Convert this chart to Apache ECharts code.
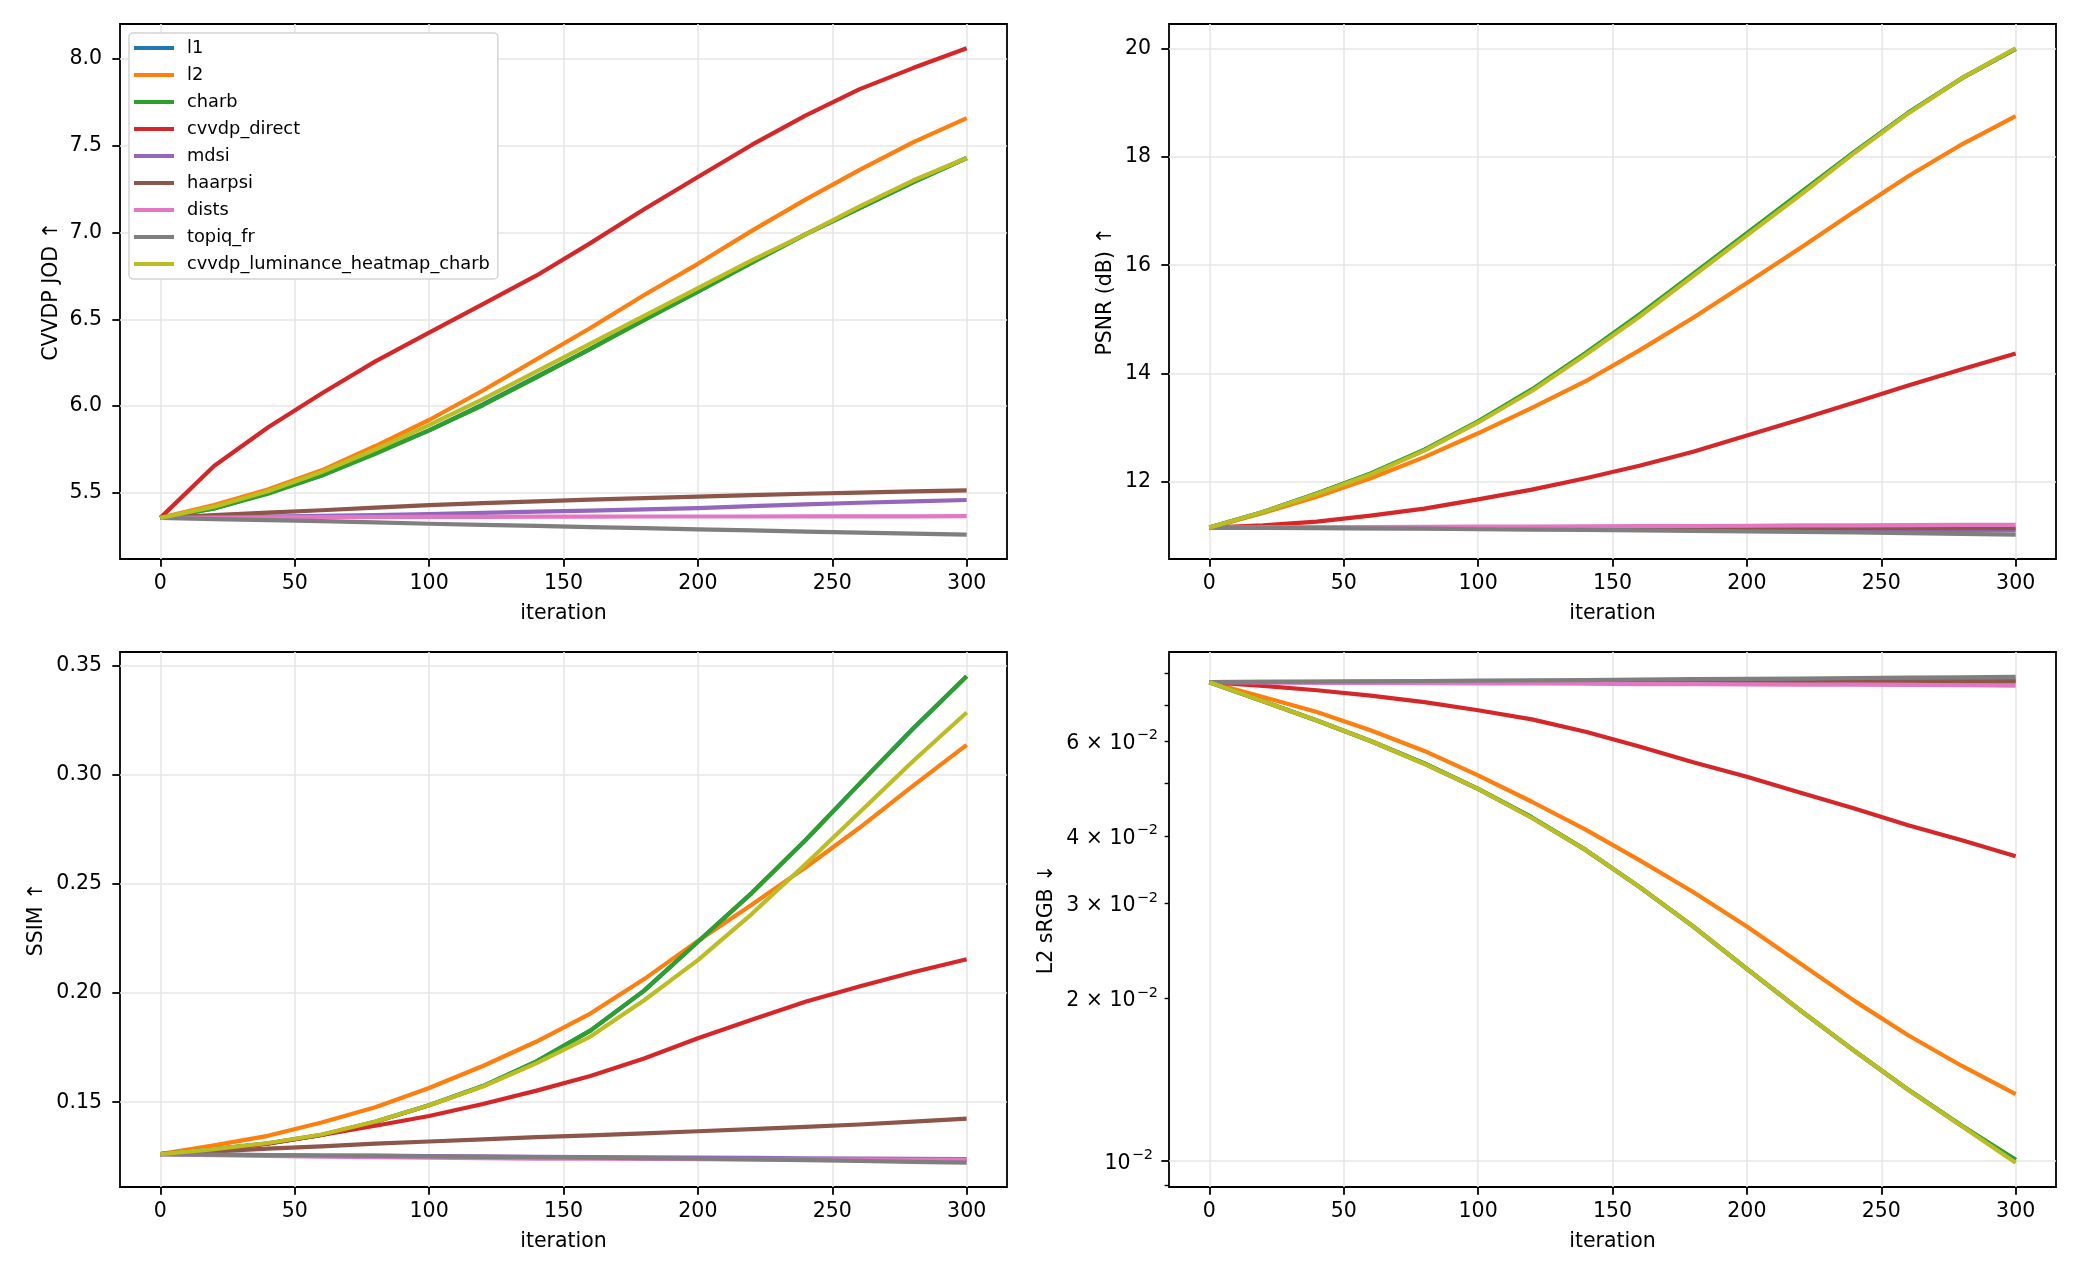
<!DOCTYPE html>
<html>
<head>
<meta charset="utf-8">
<script src="https://cdn.jsdelivr.net/npm/echarts@6/dist/echarts.min.js"></script>
<style>
    html, body { margin: 0; padding: 0; background: #ffffff; }
    #main { width: 2080px; height: 1280px; }
</style>
</head>
<body>
<div id="main"></div>
<script>
var iterations = [0, 20, 40, 60, 80, 100, 120, 140, 160, 180, 200, 220, 240, 260, 280, 300];
var methods = ['l1', 'l2', 'charb', 'cvvdp_direct', 'mdsi', 'haarpsi', 'dists', 'topiq_fr', 'cvvdp_luminance_heatmap_charb'];
var colors = ['#1f77b4', '#ff7f0e', '#2ca02c', '#d62728', '#9467bd', '#8c564b', '#e377c2', '#7f7f7f', '#bcbd22'];

// one row per method, same order as `methods`
var jodValues = [
    [5.356, 5.41, 5.50, 5.60, 5.73, 5.86, 6.01, 6.17, 6.33, 6.50, 6.66, 6.83, 6.99, 7.14, 7.29, 7.43],
    [5.356, 5.43, 5.52, 5.63, 5.77, 5.92, 6.09, 6.27, 6.45, 6.64, 6.82, 7.01, 7.19, 7.36, 7.52, 7.66],
    [5.356, 5.41, 5.495, 5.60, 5.725, 5.86, 6.005, 6.165, 6.33, 6.495, 6.66, 6.825, 6.99, 7.14, 7.29, 7.43],
    [5.356, 5.655, 5.877, 6.073, 6.258, 6.423, 6.588, 6.753, 6.939, 7.134, 7.320, 7.505, 7.674, 7.825, 7.948, 8.062],
    [5.356, 5.360, 5.364, 5.368, 5.372, 5.378, 5.385, 5.392, 5.398, 5.405, 5.412, 5.424, 5.434, 5.443, 5.451, 5.459],
    [5.356, 5.372, 5.386, 5.400, 5.415, 5.430, 5.441, 5.451, 5.461, 5.470, 5.479, 5.487, 5.495, 5.502, 5.509, 5.515],
    [5.356, 5.358, 5.359, 5.360, 5.361, 5.362, 5.362, 5.363, 5.363, 5.364, 5.364, 5.364, 5.365, 5.365, 5.365, 5.366],
    [5.356, 5.349, 5.343, 5.337, 5.330, 5.322, 5.316, 5.310, 5.303, 5.297, 5.290, 5.284, 5.277, 5.271, 5.265, 5.259],
    [5.356, 5.42, 5.51, 5.62, 5.75, 5.89, 6.04, 6.20, 6.36, 6.52, 6.68, 6.84, 6.99, 7.15, 7.30, 7.43]
];

var psnrValues = [
    [11.16, 11.45, 11.79, 12.15, 12.59, 13.11, 13.70, 14.37, 15.08, 15.83, 16.58, 17.33, 18.09, 18.81, 19.45, 19.99],
    [11.16, 11.43, 11.73, 12.07, 12.46, 12.90, 13.37, 13.86, 14.43, 15.03, 15.67, 16.32, 16.99, 17.64, 18.23, 18.75],
    [11.16, 11.45, 11.79, 12.16, 12.60, 13.12, 13.71, 14.38, 15.09, 15.84, 16.59, 17.34, 18.09, 18.81, 19.45, 19.99],
    [11.16, 11.20, 11.27, 11.38, 11.51, 11.68, 11.86, 12.07, 12.30, 12.56, 12.86, 13.16, 13.47, 13.78, 14.08, 14.37],
    [11.16, 11.157, 11.155, 11.152, 11.15, 11.147, 11.144, 11.141, 11.138, 11.135, 11.131, 11.127, 11.123, 11.119, 11.115, 11.11],
    [11.16, 11.16, 11.16, 11.16, 11.16, 11.158, 11.157, 11.156, 11.155, 11.154, 11.153, 11.152, 11.152, 11.151, 11.15, 11.15],
    [11.16, 11.165, 11.17, 11.17, 11.175, 11.18, 11.18, 11.185, 11.19, 11.19, 11.195, 11.20, 11.20, 11.205, 11.21, 11.21],
    [11.16, 11.155, 11.15, 11.145, 11.14, 11.13, 11.125, 11.12, 11.11, 11.10, 11.09, 11.08, 11.07, 11.06, 11.045, 11.03],
    [11.16, 11.45, 11.78, 12.14, 12.58, 13.10, 13.68, 14.35, 15.05, 15.80, 16.55, 17.30, 18.07, 18.80, 19.45, 20.00]
];

var ssimValues = [
    [0.1262, 0.1285, 0.1311, 0.1350, 0.1410, 0.1486, 0.1574, 0.1687, 0.1828, 0.2011, 0.2235, 0.2458, 0.2700, 0.2957, 0.3211, 0.3451],
    [0.1262, 0.1302, 0.1346, 0.1407, 0.1477, 0.1565, 0.1666, 0.1778, 0.1906, 0.2064, 0.2239, 0.2405, 0.2575, 0.2756, 0.2949, 0.3137],
    [0.1262, 0.1285, 0.1311, 0.1350, 0.1410, 0.1486, 0.1574, 0.1687, 0.1828, 0.2011, 0.2235, 0.2458, 0.2700, 0.2957, 0.3211, 0.3451],
    [0.1262, 0.1283, 0.1310, 0.1350, 0.1392, 0.1437, 0.1492, 0.1553, 0.1620, 0.1700, 0.1793, 0.1878, 0.1960, 0.2030, 0.2095, 0.2155],
    [0.1262, 0.1260, 0.1258, 0.1256, 0.1255, 0.1253, 0.1252, 0.1250, 0.1249, 0.1247, 0.1246, 0.1245, 0.1243, 0.1242, 0.1240, 0.1239],
    [0.1262, 0.1275, 0.1287, 0.1298, 0.1310, 0.1320, 0.1330, 0.1340, 0.1348, 0.1357, 0.1367, 0.1377, 0.1387, 0.1398, 0.1411, 0.1425],
    [0.1262, 0.1258, 0.1254, 0.1251, 0.1248, 0.1246, 0.1244, 0.1242, 0.1241, 0.1240, 0.1239, 0.1238, 0.1237, 0.1237, 0.1236, 0.1236],
    [0.1262, 0.1260, 0.1258, 0.1256, 0.1254, 0.1252, 0.1250, 0.1248, 0.1246, 0.1244, 0.1241, 0.1238, 0.1235, 0.1231, 0.1227, 0.1223],
    [0.1262, 0.1285, 0.1313, 0.1352, 0.1412, 0.1486, 0.1572, 0.1679, 0.1801, 0.1967, 0.2151, 0.2362, 0.2590, 0.2826, 0.3062, 0.3285]
];

var l2Values = [
    [0.0771, 0.0711, 0.0655, 0.0600, 0.0545, 0.0489, 0.0433, 0.0377, 0.0322, 0.0272, 0.0227, 0.0190, 0.0160, 0.01355, 0.01161, 0.01005],
    [0.0771, 0.0724, 0.0679, 0.0628, 0.0575, 0.0518, 0.0463, 0.0411, 0.0361, 0.0315, 0.0272, 0.0232, 0.0198, 0.0171, 0.0150, 0.0133],
    [0.0771, 0.0711, 0.0655, 0.0600, 0.0545, 0.0489, 0.0433, 0.0377, 0.0322, 0.0272, 0.0227, 0.0190, 0.0160, 0.01356, 0.01162, 0.01004],
    [0.0771, 0.0759, 0.0745, 0.0728, 0.0708, 0.0684, 0.0658, 0.0624, 0.0586, 0.0548, 0.0515, 0.0481, 0.0450, 0.0419, 0.0393, 0.0367],
    [0.0771, 0.0772, 0.0772, 0.0773, 0.0773, 0.0774, 0.0774, 0.0775, 0.0775, 0.0776, 0.0776, 0.0777, 0.0777, 0.0778, 0.0778, 0.0779],
    [0.0771, 0.0771, 0.0771, 0.0771, 0.0772, 0.0772, 0.0772, 0.0772, 0.0772, 0.0772, 0.0773, 0.0773, 0.0773, 0.0773, 0.0773, 0.0773],
    [0.0771, 0.0770, 0.0769, 0.0769, 0.0768, 0.0767, 0.0767, 0.0766, 0.0765, 0.0765, 0.0764, 0.0763, 0.0763, 0.0762, 0.0761, 0.0760],
    [0.0771, 0.0772, 0.0773, 0.0774, 0.0775, 0.0776, 0.0777, 0.0778, 0.0780, 0.0781, 0.0782, 0.0783, 0.0785, 0.0786, 0.0787, 0.0789],
    [0.0771, 0.0711, 0.0655, 0.0600, 0.0544, 0.0489, 0.0432, 0.0377, 0.0322, 0.0272, 0.0227, 0.0190, 0.0160, 0.01355, 0.01160, 0.00993]
];

var xTicks = [0, 50, 100, 150, 200, 250, 300];
var jodTicks = [5.5, 6.0, 6.5, 7.0, 7.5, 8.0];
var psnrTicks = [12, 14, 16, 18, 20];
var ssimTicks = [0.15, 0.20, 0.25, 0.30, 0.35];
var l2LabelTicks = [0.01, 0.02, 0.03, 0.04, 0.06];
var l2MinorTicks = [0.009, 0.02, 0.03, 0.04, 0.05, 0.06, 0.07, 0.08];

var FONT = 'DejaVu Sans';
var chart = echarts.init(document.getElementById('main'), null, { renderer: 'canvas' });

function makeGrid(left, top) {
    return {
        left: left, top: top, width: 887, height: 535,
        show: true, borderColor: '#000000', borderWidth: 1.8,
        backgroundColor: 'transparent', containLabel: false
    };
}

function makeXAxis(gridIndex) {
    return {
        type: 'value', gridIndex: gridIndex, min: -15, max: 315,
        name: 'iteration', nameLocation: 'middle', nameGap: 44,
        nameTextStyle: { fontFamily: FONT, fontSize: 20.5, color: '#000000' },
        axisLine: { show: false, onZero: false },
        axisTick: { show: true, length: 7.7, customValues: xTicks, lineStyle: { color: '#000000', width: 1.8 } },
        axisLabel: { customValues: xTicks, margin: 14, fontFamily: FONT, fontSize: 20.5, color: '#000000' },
        splitLine: { show: true, lineStyle: { color: '#e6e6e6', width: 1.6 } }
    };
}

function makeYAxis(gridIndex, min, max, ticks, digits, name, gap) {
    return {
        type: 'value', gridIndex: gridIndex, min: min, max: max, position: 'left',
        name: name, nameLocation: 'middle', nameGap: gap,
        nameTextStyle: { fontFamily: FONT, fontSize: 20.5, color: '#000000' },
        axisLine: { show: false, onZero: false },
        axisTick: { show: true, length: 7.7, customValues: ticks, lineStyle: { color: '#000000', width: 1.8 } },
        axisLabel: {
            customValues: ticks, margin: 18, fontFamily: FONT, fontSize: 20.5, color: '#000000',
            formatter: function (v) { return Number(v).toFixed(digits); }
        },
        splitLine: { show: true, lineStyle: { color: '#e6e6e6', width: 1.6 } }
    };
}

// matplotlib-like "6 × 10^-2" labels, superscript drawn as a small raised piece
function l2Label(v) {
    var k = Math.round(v * 100);
    if (k === 1) return '{b|10}{s|\u22122}{p|}';
    return '{b|' + k + ' \u00d7 10}{s|\u22122}';
}

function makeSeries(values, axisIndex) {
    return methods.map(function (name, i) {
        return {
            name: name,
            type: 'line',
            xAxisIndex: axisIndex,
            yAxisIndex: axisIndex,
            data: iterations.map(function (it, k) { return [it, values[i][k]]; }),
            showSymbol: false,
            symbol: 'none',
            animation: false,
            lineStyle: { color: colors[i], width: 4.2, join: 'round', cap: 'butt' },
            itemStyle: { color: colors[i] },
            emphasis: { disabled: true }
        };
    });
}

var option = {
    backgroundColor: '#ffffff',
    animation: false,
    textStyle: { fontFamily: FONT },
    grid: [
        makeGrid(120, 24),
        makeGrid(1169, 24),
        makeGrid(120, 652),
        makeGrid(1169, 652)
    ],
    legend: {
        data: methods,
        orient: 'vertical',
        left: 129,
        top: 33,
        icon: 'rect',
        itemWidth: 40,
        itemHeight: 4,
        itemGap: 9,
        padding: [6, 8, 6, 5],
        backgroundColor: '#ffffff',
        borderColor: '#d4d4d4',
        borderWidth: 1.5,
        borderRadius: 4,
        selectedMode: false,
        textStyle: { fontFamily: FONT, fontSize: 17.8, color: '#000000', lineHeight: 18, padding: [0, 0, 0, 8] }
    },
    xAxis: [makeXAxis(0), makeXAxis(1), makeXAxis(2), makeXAxis(3)],
    yAxis: [
        makeYAxis(0, 5.119, 8.202, jodTicks, 1, 'CVVDP JOD \u2191', 58),
        makeYAxis(1, 10.5815, 20.4485, psnrTicks, 0, 'PSNR (dB) \u2191', 53),
        makeYAxis(2, 0.11116, 0.35624, ssimTicks, 2, 'SSIM \u2191', 73),
        {
            type: 'log', logBase: 10, gridIndex: 3, min: 0.00895, max: 0.0877, position: 'left',
            name: 'L2 sRGB \u2193', nameLocation: 'middle', nameGap: 112,
            nameTextStyle: { fontFamily: FONT, fontSize: 20.5, color: '#000000' },
            axisLine: { show: false, onZero: false },
            axisTick: { show: true, length: 7.7, customValues: [0.01], lineStyle: { color: '#000000', width: 1.8 } },
            axisLabel: {
                customValues: l2LabelTicks, margin: 11, color: '#000000',
                formatter: l2Label,
                rich: {
                    b: { fontFamily: FONT, fontSize: 20.5, color: '#000000', lineHeight: 26, verticalAlign: 'bottom' },
                    s: { fontFamily: FONT, fontSize: 14.5, color: '#000000', lineHeight: 14, verticalAlign: 'top', padding: [0, 0, 0, 1] },
                    p: { width: 5 }
                }
            },
            splitLine: { show: true, lineStyle: { color: '#e6e6e6', width: 1.6 } }
        },
        {
            type: 'log', logBase: 10, gridIndex: 3, min: 0.00895, max: 0.0877, position: 'left', offset: 0,
            axisLine: { show: false, onZero: false },
            axisTick: { show: true, length: 4.4, customValues: l2MinorTicks, lineStyle: { color: '#000000', width: 1.4 } },
            axisLabel: { show: false },
            splitLine: { show: false }
        }
    ],
    series: [].concat(
        makeSeries(jodValues, 0),
        makeSeries(psnrValues, 1),
        makeSeries(ssimValues, 2),
        makeSeries(l2Values, 3)
    )
};

chart.setOption(option);
</script>
</body>
</html>
